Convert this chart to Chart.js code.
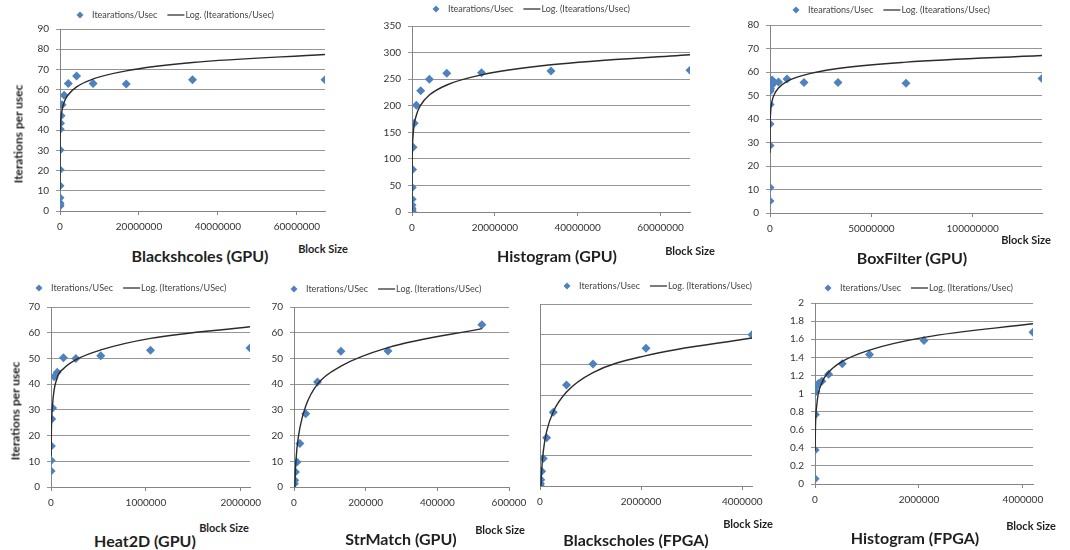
<!DOCTYPE html>
<html>
<head>
<meta charset="utf-8">
<script src="https://cdn.jsdelivr.net/npm/chart.js@4.4.0/dist/chart.umd.min.js"></script>
<style>
  html, body { margin: 0; padding: 0; background: #fff; }
  #page { position: relative; width: 1070px; height: 550px; overflow: hidden; font-family: Lato, 'Open Sans', sans-serif; }
  #page canvas { position: absolute; }
  .lbl { position: absolute; transform: translate(-50%, -50%); white-space: nowrap; font-weight: bold; color: #1f1f1f; }
  .title { font-size: 16px; }
  .bs { font-size: 11px; }
  .ytitle { font-size: 12px; transform: translate(-50%, -50%) rotate(-90deg); }
</style>
</head>
<body>
<div id="page"></div>
<script>
// Blackshcoles (GPU)
const blockBlackGpu = [512, 1024, 2048, 4096, 8192, 16384, 32768, 65536, 131072, 262144, 524288, 1048576, 2097152, 4194304, 8388608, 16777216, 33554432, 67108864];
const iterBlackGpu = [2.5, 3, 4, 6.6, 12.5, 20.4, 30.2, 40.4, 43.4, 47.1, 52.6, 57.2, 63.1, 66.8, 63.1, 62.8, 64.9, 64.9];
const trendXBlackGpu = [512, 2048, 8192, 32768, 131072, 524288, 1048576, 2097152, 4194304, 8388608, 16777216, 33554432, 67108864];
const trendBlackGpu = [10.4, 18.3, 26.2, 34.1, 42, 49.9, 53.8, 57.5, 61.4, 65.3, 69.3, 73.4, 77.4];

// Histogram (GPU)
const blockHistGpu = [512, 1024, 2048, 4096, 8192, 16384, 32768, 65536, 131072, 262144, 524288, 1048576, 2097152, 4194304, 8388608, 16777216, 33554432, 67108864];
const iterHistGpu = [0.4, 0.8, 1.5, 4, 7, 13, 24, 46, 80, 122, 167, 201, 228, 250, 261, 262, 265.4, 266.6];
const trendXHistGpu = [1024, 4096, 16384, 65536, 262144, 1048576, 2097152, 4194304, 8388608, 16777216, 33554432, 67108864];
const trendHistGpu = [-8, 30, 68, 106, 144, 182, 201, 220, 239, 258, 277, 296];

// BoxFilter (GPU)
const blockBoxGpu = [4096, 8192, 16384, 32768, 65536, 131072, 262144, 524288, 1048576, 2097152, 4194304, 8388608, 16777216, 33554432, 67108864, 134217728];
const iterBoxGpu = [5.1, 10.9, 28.7, 37.9, 46.2, 51.9, 52.9, 54, 56.6, 55.5, 55.7, 57, 55.5, 55.5, 55.2, 57.2];
const trendXBoxGpu = [4096, 16384, 65536, 262144, 1048576, 2097152, 4194304, 8388608, 16777216, 33554432, 67108864, 134217728];
const trendBoxGpu = [25.6, 31.1, 36.6, 42.2, 47.7, 50.4, 53.2, 56, 58.7, 61.5, 64.2, 67];

// Heat2D (GPU)
const blockHeatGpu = [1024, 2048, 4096, 8192, 16384, 32768, 65536, 131072, 262144, 524288, 1048576, 2097152];
const iterHeatGpu = [6.2, 10.3, 15.9, 26.4, 30.7, 42.9, 44.6, 50.3, 50, 51, 53.2, 54.1];
const trendXHeatGpu = [1024, 4096, 16384, 65536, 131072, 262144, 524288, 1048576, 2097152];
const trendHeatGpu = [12, 22, 32, 42.5, 46, 49.5, 53.3, 57.8, 62.3];

// StrMatch (GPU)
const blockStrGpu = [1024, 2048, 4096, 8192, 16384, 32768, 65536, 131072, 262144, 524288];
const iterStrGpu = [1.3, 2.6, 5.8, 9.7, 16.9, 28.5, 40.8, 52.8, 52.9, 63.1];
const trendXStrGpu = [2048, 4096, 8192, 16384, 32768, 65536, 131072, 262144, 524288];
const trendStrGpu = [-1, 7, 15, 23, 31.5, 40, 47, 54.2, 61.6];

// Blackscholes (FPGA) – axis has no labels, values in gridline units x10
const blockBlackFpga = [4096, 8192, 16384, 32768, 65536, 131072, 262144, 524288, 1048576, 2097152, 4194304];
const iterBlackFpga = [0.2, 0.8, 2.1, 4.9, 9.1, 15.9, 24.3, 33.3, 40.2, 45.4, 49.9];
const trendXBlackFpga = [16384, 32768, 65536, 131072, 262144, 524288, 1048576, 2097152, 4194304];
const trendBlackFpga = [-1.5, 5, 11.5, 18, 24.5, 31, 37.4, 43, 48.8];

// Histogram (FPGA)
const blockHistFpga = [2048, 4096, 8192, 16384, 32768, 65536, 131072, 262144, 524288, 1048576, 2097152, 4194304];
const iterHistFpga = [0.058, 0.377, 0.769, 1.018, 1.084, 1.11, 1.135, 1.212, 1.33, 1.432, 1.586, 1.677];
const trendXHistFpga = [2048, 8192, 32768, 131072, 262144, 524288, 1048576, 2097152, 4194304];
const trendHistFpga = [0.365, 0.615, 0.865, 1.115, 1.235, 1.355, 1.48, 1.62, 1.77];

// tick labels
const xTicks64M = [0, 20000000, 40000000, 60000000];
const xTicks128M = [0, 50000000, 100000000];
const xTicks2M = [0, 1000000, 2000000];
const xTicks600k = [0, 200000, 400000, 600000];
const xTicks4M = [0, 2000000, 4000000];
const yTicks90 = [0, 10, 20, 30, 40, 50, 60, 70, 80, 90];
const yTicks350 = [0, 50, 100, 150, 200, 250, 300, 350];
const yTicks80 = [0, 10, 20, 30, 40, 50, 60, 70, 80];
const yTicks70 = [0, 10, 20, 30, 40, 50, 60, 70];
const yTicks60 = [0, 10, 20, 30, 40, 50, 60];
const yTicks2 = [0, 0.2, 0.4, 0.6, 0.8, 1, 1.2, 1.4, 1.6, 1.8, 2];

const blue = '#4f81bd';
Chart.defaults.font.family = 'Lato';

const panels = [
  { title: 'Blackshcoles (GPU)', series: 'Itearations/Usec', xs: blockBlackGpu, ys: iterBlackGpu, tx: trendXBlackGpu, ty: trendBlackGpu,
    xMax: 67108864, xTicks: xTicks64M, yTicks: yTicks90, yLabels: true,
    box: [60, 29, 325, 211], legendAt: [80, 15], titleAt: [200, 255], blockAt: [323, 248], yTitleAt: [18, 134] },
  { title: 'Histogram (GPU)', series: 'Itearations/Usec', xs: blockHistGpu, ys: iterHistGpu, tx: trendXHistGpu, ty: trendHistGpu,
    xMax: 67108864, xTicks: xTicks64M, yTicks: yTicks350, yLabels: true,
    box: [412, 26, 690, 212], legendAt: [436, 9], titleAt: [557, 255], blockAt: [690, 250] },
  { title: 'BoxFilter (GPU)', series: 'Itearations/Usec', xs: blockBoxGpu, ys: iterBoxGpu, tx: trendXBoxGpu, ty: trendBoxGpu,
    xMax: 134217728, xTicks: xTicks128M, yTicks: yTicks80, yLabels: true,
    box: [770, 25, 1042, 213], legendAt: [796, 10], titleAt: [912, 257], blockAt: [1026, 239] },
  { title: 'Heat2D (GPU)', series: 'Iterations/USec', xs: blockHeatGpu, ys: iterHeatGpu, tx: trendXHeatGpu, ty: trendHeatGpu,
    xMax: 2097152, xTicks: xTicks2M, yTicks: yTicks70, yLabels: true,
    box: [51, 307, 250, 487], legendAt: [39, 288], titleAt: [145, 540], blockAt: [224, 527], yTitleAt: [15, 411] },
  { title: 'StrMatch (GPU)', series: 'Iterations/USec', xs: blockStrGpu, ys: iterStrGpu, tx: trendXStrGpu, ty: trendStrGpu,
    xMax: 600000, xTicks: xTicks600k, yTicks: yTicks70, yLabels: true,
    box: [294, 307, 509, 487], legendAt: [294, 289], titleAt: [401, 538], blockAt: [500, 529] },
  { title: 'Blackscholes (FPGA)', series: 'Iterations/Usec', xs: blockBlackFpga, ys: iterBlackFpga, tx: trendXBlackFpga, ty: trendBlackFpga,
    xMax: 4194304, xTicks: xTicks4M, yTicks: yTicks60, yLabels: false,
    box: [540, 304, 752, 486], legendAt: [567, 286], titleAt: [636, 539], blockAt: [748, 523] },
  { title: 'Histogram (FPGA)', series: 'Iterations/Usec', xs: blockHistFpga, ys: iterHistFpga, tx: trendXHistFpga, ty: trendHistFpga,
    xMax: 4194304, xTicks: xTicks4M, yTicks: yTicks2, yLabels: true,
    box: [815, 303, 1033, 484], legendAt: [828, 288], titleAt: [915, 537], blockAt: [1031, 525] }
];

// legend drawn as one row: diamond + name, line + "Log. (...)"
const legendRow = {
  id: 'legendRow',
  afterDraw(chart, args, o) {
    const ctx = chart.ctx;
    const x = o.at[0], y = o.at[1];
    ctx.save();
    ctx.font = '9px Lato';
    ctx.textBaseline = 'middle';
    ctx.fillStyle = blue;
    ctx.beginPath();
    ctx.moveTo(x, y - 3.5); ctx.lineTo(x + 3.5, y); ctx.lineTo(x, y + 3.5); ctx.lineTo(x - 3.5, y);
    ctx.closePath();
    ctx.fill();
    const t1 = chart.data.datasets[1].label, t2 = chart.data.datasets[0].label;
    ctx.fillStyle = '#454545';
    ctx.fillText(t1, x + 12, y);
    const lx = x + 12 + ctx.measureText(t1).width + 10;
    ctx.strokeStyle = '#333';
    ctx.lineWidth = 1.3;
    ctx.beginPath(); ctx.moveTo(lx, y); ctx.lineTo(lx + 17, y); ctx.stroke();
    ctx.fillText(t2, lx + 18, y);
    ctx.restore();
  }
};

const page = document.getElementById('page');

function addText(cls, text, at) {
  const d = document.createElement('div');
  d.className = 'lbl ' + cls;
  d.textContent = text;
  d.style.left = at[0] + 'px';
  d.style.top = at[1] + 'px';
  page.appendChild(d);
}

panels.forEach(p => {
  const [L, T, R, B] = p.box;
  const left = L - 50, top = T - 30;
  const cv = document.createElement('canvas');
  cv.width = R - L + 90;
  cv.height = B - T + 58;
  cv.style.left = left + 'px';
  cv.style.top = top + 'px';
  page.appendChild(cv);

  const tickFont = { family: 'Lato', size: 10 };
  new Chart(cv, {
    type: 'scatter',
    data: {
      datasets: [
        {
          label: 'Log. (' + p.series + ')',
          data: p.tx.map((x, i) => ({ x, y: p.ty[i] })),
          showLine: true,
          borderColor: '#2b2b2b',
          borderWidth: 1.4,
          pointRadius: 0,
          cubicInterpolationMode: 'monotone'
        },
        {
          label: p.series,
          data: p.xs.map((x, i) => ({ x, y: p.ys[i] })),
          pointStyle: 'rectRot',
          pointRadius: 4.5,
          backgroundColor: blue,
          borderColor: blue,
          borderWidth: 0
        }
      ]
    },
    options: {
      responsive: false,
      animation: false,
      devicePixelRatio: 1,
      layout: { padding: { left: 0, top: 30, right: 40, bottom: 0 } },
      plugins: {
        legend: { display: false },
        tooltip: { enabled: false },
        legendRow: { at: [p.legendAt[0] - left, p.legendAt[1] - top] }
      },
      scales: {
        x: {
          type: 'linear', min: 0, max: p.xMax,
          afterBuildTicks: s => { s.ticks = p.xTicks.map(v => ({ value: v })); },
          afterFit: s => { s.height = 28; },
          grid: { drawOnChartArea: false, drawTicks: true, tickLength: 4, color: '#858585' },
          border: { color: '#858585' },
          ticks: { font: tickFont, color: '#333', padding: 6, maxRotation: 0, autoSkip: false, callback: v => String(v) }
        },
        y: {
          type: 'linear', min: 0, max: p.yTicks[p.yTicks.length - 1],
          afterBuildTicks: s => { s.ticks = p.yTicks.map(v => ({ value: v })); },
          afterFit: s => { s.width = 50; },
          grid: { color: '#959595', tickLength: 4, drawTicks: p.yLabels },
          border: { color: '#858585' },
          ticks: { display: p.yLabels, font: tickFont, color: '#333', padding: 7, autoSkip: false, callback: v => String(Math.round(v * 10) / 10) }
        }
      }
    },
    plugins: [legendRow]
  });

  addText('title', p.title, p.titleAt);
  addText('bs', 'Block Size', p.blockAt);
  if (p.yTitleAt) addText('ytitle', 'Iterations per usec', p.yTitleAt);
});
</script>
</body>
</html>
